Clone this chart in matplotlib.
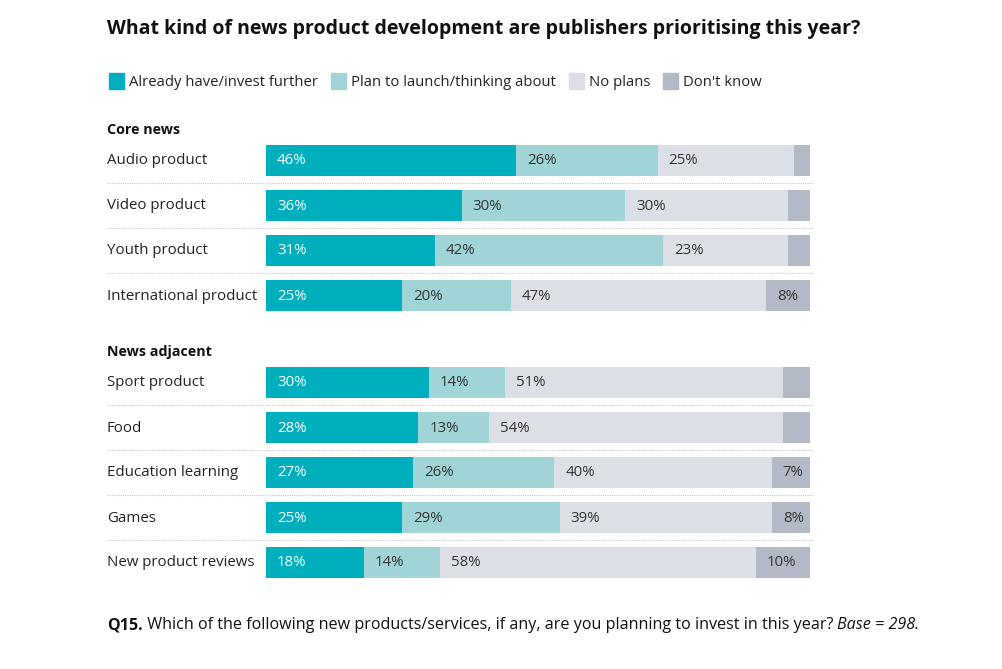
import matplotlib
matplotlib.use('Agg')
import matplotlib.pyplot as plt
from matplotlib.patches import Rectangle

plt.rcParams['font.family'] = ['Open Sans', 'DejaVu Sans']

# data
series = ['Already have/invest further', 'Plan to launch/thinking about', 'No plans', "Don't know"]
colors = ['#00AFBD', '#A0D4D7', '#DCE0E6', '#B4B9C6']
label_colors = ['white', '#333333', '#333333', '#333333']

groups = ['Core news', 'News adjacent']
group_rows = [
    ['Audio product', 'Video product', 'Youth product', 'International product'],
    ['Sport product', 'Food', 'Education learning', 'Games', 'New product reviews'],
]
already = [46, 36, 31, 25, 30, 28, 27, 25, 18]
plan = [26, 30, 42, 20, 14, 13, 26, 29, 14]
no_plans = [25, 30, 23, 47, 51, 54, 40, 39, 58]
dont_know = [3, 4, 4, 8, 5, 5, 7, 8, 10]

title = 'What kind of news product development are publishers prioritising this year?'

W, H = 1003, 669
fig = plt.figure(figsize=(W / 100, H / 100), dpi=100)
fig.patch.set_facecolor('white')


def fx(px):
    return px / W


def fy(py):
    return 1 - py / H


# axes: x in percent, y in pixel rows (inverted)
x0, x1 = 266, 810
ax = fig.add_axes([fx(x0), fy(600), (x1 - x0) / W, 500 / H])
ax.set_xlim(0, 100)
ax.set_ylim(600, 100)
ax.axis('off')

# row positions
header_y = []
row_y = []
y = 129
for g, rows in zip(groups, group_rows):
    header_y.append(y)
    y += 31
    for r in rows:
        row_y.append(y)
        y += 45
    y += 11

row_labels = [r for rows in group_rows for r in rows]
data = [already, plan, no_plans, dont_know]
left = [0] * len(row_labels)
for vals, c, lc in zip(data, colors, label_colors):
    ax.barh(row_y, vals, left=left, height=31, color=c, edgecolor='none')
    for yy, v, l in zip(row_y, vals, left):
        if v >= 6:
            ax.text(l + 2.0, yy + 1, f'{v}%', va='center', ha='left',
                    fontsize=10.8, color=lc)
    left = [a + b for a, b in zip(left, vals)]

# row labels and dotted separators
idx = 0
for g, rows, hy in zip(groups, group_rows, header_y):
    fig.text(fx(107), fy(hy + 1), g, fontsize=10.3, fontweight='bold',
             color='#111111', va='center', ha='left')
    for i, r in enumerate(rows):
        fig.text(fx(107), fy(row_y[idx] + 1), r, fontsize=10.8,
                 color='#222222', va='center', ha='left')
        if i < len(rows) - 1:
            sep = (row_y[idx] + row_y[idx + 1]) / 2
            fig.add_artist(plt.Line2D([fx(107), fx(813)], [fy(sep), fy(sep)],
                                      color='#C8C8C8', lw=0.8, ls=(0, (1, 1))))
        idx += 1

# title
fig.text(fx(107), fy(29), title, fontsize=14, fontweight='bold',
         color='#111111', va='center', ha='left')

# legend
renderer = fig.canvas.get_renderer()
lx = 109
for s, c in zip(series, colors):
    fig.add_artist(Rectangle((fx(lx), fy(89)), 15 / W, 16 / H, color=c,
                             transform=fig.transFigure))
    t = fig.text(fx(lx + 20), fy(82), s, fontsize=10.7, color='#222222',
                 va='center', ha='left')
    bb = t.get_window_extent(renderer)
    lx = bb.x1 + 13

# footer
fx_px = 107
parts = [('Q15.', 'bold', 'normal'),
         (' Which of the following new products/services, if any, are you planning to invest in this year? ', 'normal', 'normal'),
         ('Base = 298.', 'normal', 'italic')]
for txt, w, st in parts:
    t = fig.text(fx(fx_px), fy(625), txt, fontsize=11.6, fontweight=w,
                 fontstyle=st, color='#111111', va='center', ha='left')
    bb = t.get_window_extent(renderer)
    fx_px = bb.x1

fig.savefig('out.png', dpi=100)
